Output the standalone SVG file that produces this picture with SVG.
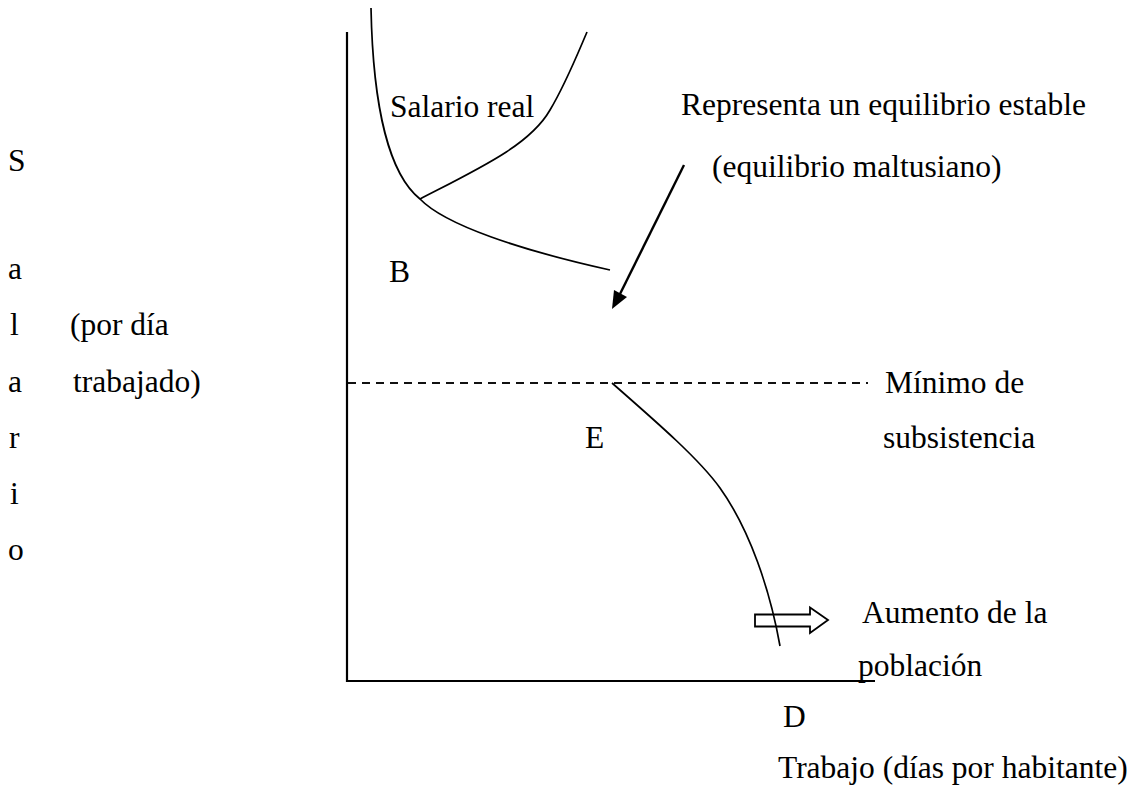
<svg xmlns="http://www.w3.org/2000/svg" width="1135" height="786" viewBox="0 0 1135 786">
<style>
text{font-family:"Liberation Serif","Times New Roman",serif;font-size:31.5px;fill:#000}
.ax{stroke:#000;stroke-width:2.2;fill:none}
.cv{stroke:#000;stroke-width:1.7;fill:none}
.dash{stroke:#111;stroke-width:1.9;stroke-dasharray:8 6;fill:none}
</style>
<rect width="1135" height="786" fill="#fff"/>
<g id="axes">
<line class="ax" x1="347" y1="32" x2="347" y2="682"/>
<line class="ax" x1="346" y1="681" x2="875" y2="681"/>
</g>
<g id="connectors">
<path id="salario-curve" class="cv" d="M371,8 C373,110 390,175 420,199 C445,225 520,250 610,270"/>
<path id="rising-curve" class="cv" d="M420,199 C480,168 530,145 550,110 C565,85 575,60 587,32"/>
<line id="minimo" class="dash" x1="348" y1="383" x2="868" y2="383"/>
<path id="e-curve" class="cv" d="M612,383 C660,425 700,460 720,488 C750,530 770,590 780,646"/>
<g id="eq-arrow">
<line x1="684" y1="165" x2="620" y2="294" stroke="#000" stroke-width="2.4"/>
<polygon points="612,309 627,297 614,290" fill="#000"/>
</g>
<polygon id="pop-arrow" points="755,614.5 810,614.5 810,607.5 828,620 810,633 810,626.5 755,626.5" fill="none" stroke="#000" stroke-width="1.8"/>
</g>
<g id="y-label">
<text x="8" y="171">S</text>
<text x="8" y="279">a</text>
<text x="10" y="335">l</text>
<text x="8" y="392">a</text>
<text x="9" y="448">r</text>
<text x="10" y="504">i</text>
<text x="8" y="560">o</text>
<text x="70" y="335">(por día</text>
<text x="73" y="392">trabajado)</text>
</g>
<g id="salario-real"><text x="390" y="117">Salario real</text></g>
<g id="equilibrio">
<text x="681" y="115">Representa un equilibrio estable</text>
<text x="712" y="177">(equilibrio maltusiano)</text>
</g>
<g id="B"><text x="389" y="282">B</text></g>
<g id="E"><text x="585" y="448">E</text></g>
<g id="minimo-label">
<text x="885" y="393">Mínimo de</text>
<text x="883" y="448">subsistencia</text>
</g>
<g id="poblacion">
<text x="862" y="623">Aumento de la</text>
<text x="858" y="676">población</text>
</g>
<g id="D"><text x="783" y="727">D</text></g>
<g id="x-label"><text x="778" y="778">Trabajo (días por habitante)</text></g>
</svg>
